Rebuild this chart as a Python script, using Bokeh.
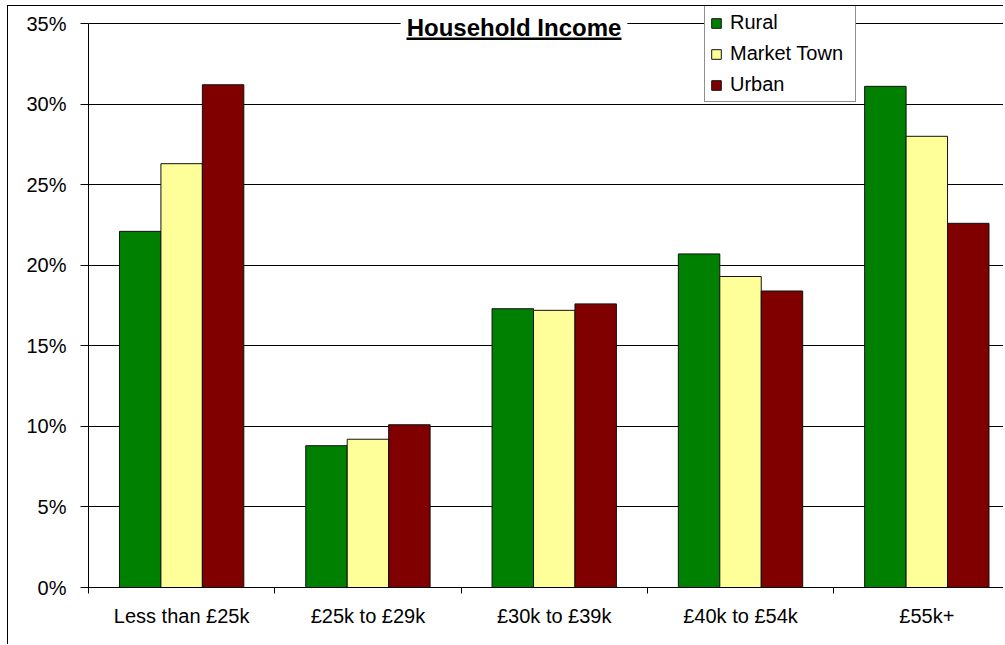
from bokeh.plotting import figure
from bokeh.models import (ColumnDataSource, Range1d, FixedTicker, PrintfTickFormatter,
                          Legend, Label, BoxAnnotation)
from bokeh.transform import dodge
from bokeh.embed import file_html
from bokeh.resources import INLINE

categories = ["Less than £25k", "£25k to £29k", "£30k to £39k", "£40k to £54k", "£55k+"]
rural = [22.1, 8.8, 17.3, 20.7, 31.1]
market_town = [26.3, 9.2, 17.2, 19.3, 28.0]
urban = [31.2, 10.1, 17.6, 18.4, 22.6]
y_ticks = [0, 5, 10, 15, 20, 25, 30, 35]

centers = [i + 0.5 for i in range(len(categories))]
source = ColumnDataSource(dict(x=centers, rural=rural, market=market_town, urban=urban))

FONT = "Liberation Sans"

p = figure(width=996, height=639, output_backend="svg", toolbar_location=None,
           x_range=Range1d(0, 4.917), y_range=Range1d(0, 36.055),
           min_border_left=80, min_border_right=0, min_border_top=0, min_border_bottom=58)
p.styles = {"border-left": "1px solid black", "border-top": "1px solid black",
            "margin-left": "7px", "margin-top": "5px"}
p.outline_line_color = None
p.background_fill_color = "white"
p.border_fill_color = "white"

bw = 0.2225
r1 = p.vbar(x=dodge("x", -bw, range=p.x_range), top="rural", width=bw, source=source,
            fill_color="#008000", line_color="#111111", line_width=1)
r2 = p.vbar(x="x", top="market", width=bw, source=source,
            fill_color="#FFFF99", line_color="#111111", line_width=1)
r3 = p.vbar(x=dodge("x", bw, range=p.x_range), top="urban", width=bw, source=source,
            fill_color="#800000", line_color="#111111", line_width=1)

# axes
xa = p.xaxis[0]
xa.ticker = FixedTicker(ticks=centers, minor_ticks=list(range(len(categories) + 1)))
xa.major_label_overrides = {c: lab for c, lab in zip(centers, categories)}
xa.major_tick_line_color = None
xa.major_tick_out = 0
xa.major_tick_in = 0
xa.minor_tick_line_color = "black"
xa.minor_tick_out = 6
xa.minor_tick_in = 0
xa.major_label_standoff = 11
xa.major_label_text_font = FONT
xa.major_label_text_font_size = "20px"
xa.major_label_text_color = "black"
xa.axis_line_color = "black"

ya = p.yaxis[0]
ya.ticker = FixedTicker(ticks=y_ticks)
ya.formatter = PrintfTickFormatter(format="%d%%")
ya.bounds = (0, 35)
ya.major_tick_out = 8
ya.major_tick_in = 0
ya.minor_tick_line_color = None
ya.major_label_standoff = 14
ya.major_label_text_font = FONT
ya.major_label_text_font_size = "20px"
ya.major_label_text_color = "black"
ya.axis_line_color = "black"
ya.major_tick_line_color = "black"

p.xgrid.grid_line_color = None
p.ygrid.ticker = FixedTicker(ticks=y_ticks)
p.ygrid.grid_line_color = "black"
p.ygrid.grid_line_width = 1

# title with white background and underline
title = Label(x=2.284, y=34.75, text="Household Income", text_align="center",
              text_baseline="middle", text_font=FONT, text_font_size="24px",
              text_font_style="bold", text_color="black",
              background_fill_color="white", padding=6)
p.add_layout(title)
underline = BoxAnnotation(left=1.707, right=2.861, bottom=33.97, top=34.13,
                          fill_color="black", fill_alpha=1, line_color=None)
p.add_layout(underline)

legend = Legend(items=[("Rural", [r1]), ("Market Town", [r2]), ("Urban", [r3])],
                location=(616, 485), orientation="vertical",
                label_text_font=FONT, label_text_font_size="20px", label_text_color="black",
                glyph_width=12, glyph_height=12, label_standoff=8,
                label_height=22, label_width=120, spacing=8, padding=5,
                border_line_color="#222222", border_line_width=1,
                background_fill_color="white", background_fill_alpha=1)
p.add_layout(legend, "center")

open("out.html", "w").write(file_html(p, INLINE))
